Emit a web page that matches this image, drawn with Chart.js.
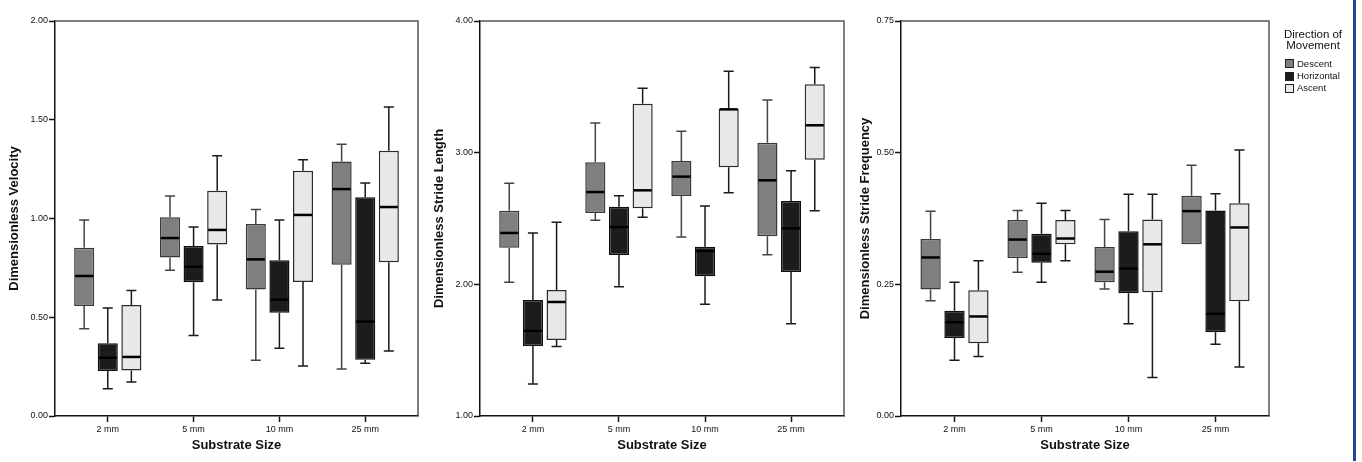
<!DOCTYPE html>
<html><head><meta charset="utf-8">
<script src="https://cdn.jsdelivr.net/npm/chart.js@4/dist/chart.umd.min.js"></script>
<style>
html,body{margin:0;padding:0;background:#fff;width:1362px;height:462px;overflow:hidden;position:relative;font-family:Arial,"Liberation Sans",sans-serif;}
.pane{position:absolute;top:0;}
#legend{position:absolute;left:1280px;top:0;width:66px;height:100px;color:#111;}
#legend .lt{position:absolute;left:-10px;top:28.5px;width:86px;text-align:center;font-size:11.5px;line-height:11.5px;}
#legend .it{position:absolute;left:5px;height:12px;font-size:9.5px;line-height:12px;white-space:nowrap;}
#legend .sw{position:absolute;left:0;top:1.5px;width:9px;height:9px;box-sizing:border-box;border:1px solid #222;}
#legend .tx{position:absolute;left:12px;top:0;}
#edge{position:absolute;left:1353px;top:0;width:3px;height:461px;background:#2a4494;}
</style>
</head><body>
<div class="pane" style="left:0px"><canvas id="c1" width="420" height="462"></canvas></div>
<div class="pane" style="left:425px"><canvas id="c2" width="421" height="462"></canvas></div>
<div class="pane" style="left:851px"><canvas id="c3" width="420" height="462"></canvas></div>
<div id="legend"></div>
<div id="edge"></div>
<script>
// ---- data ----
const categories = ['2 mm', '5 mm', '10 mm', '25 mm'];
const seriesNames = ['Descent', 'Horizontal', 'Ascent'];
// each entry: [lower whisker, Q1, median, Q3, upper whisker]
const velocityDescent    = [[0.442,0.557,0.709,0.852,0.992],[0.738,0.802,0.901,1.006,1.114],[0.282,0.641,0.793,0.972,1.046],[0.238,0.766,1.149,1.289,1.376]];
const velocityHorizontal = [[0.138,0.228,0.295,0.368,0.547],[0.407,0.677,0.756,0.861,0.957],[0.343,0.523,0.589,0.788,0.992],[0.267,0.285,0.478,1.107,1.180]];
const velocityAscent     = [[0.172,0.230,0.299,0.562,0.635],[0.587,0.868,0.942,1.141,1.318],[0.253,0.678,1.018,1.242,1.298],[0.329,0.778,1.058,1.343,1.565]];

const lengthDescent    = [[2.015,2.278,2.390,2.559,2.767],[2.486,2.542,2.701,2.927,3.225],[2.359,2.671,2.818,2.937,3.162],[2.225,2.365,2.790,3.076,3.400]];
const lengthHorizontal = [[1.243,1.532,1.646,1.881,2.390],[1.982,2.223,2.435,2.590,2.673],[1.848,2.061,2.253,2.286,2.595],[1.701,2.094,2.425,2.633,2.863]];
const lengthAscent     = [[1.527,1.577,1.866,1.957,2.471],[2.509,2.577,2.714,3.372,3.489],[2.696,2.889,3.329,3.334,3.618],[2.559,2.947,3.208,3.519,3.646]];

const freqDescent    = [[0.219,0.240,0.301,0.336,0.389],[0.273,0.300,0.335,0.372,0.390],[0.241,0.254,0.274,0.321,0.373],[0.326,0.326,0.389,0.418,0.476]];
const freqHorizontal = [[0.106,0.148,0.178,0.200,0.254],[0.254,0.291,0.308,0.346,0.404],[0.175,0.233,0.280,0.351,0.421],[0.136,0.159,0.194,0.390,0.422]];
const freqAscent     = [[0.113,0.138,0.189,0.239,0.295],[0.295,0.326,0.337,0.372,0.390],[0.073,0.235,0.326,0.373,0.421],[0.093,0.218,0.358,0.404,0.505]];

const velocityTicks = [0, 0.5, 1.0, 1.5, 2.0];
const lengthTicks = [1, 2, 3, 4];
const freqTicks = [0, 0.25, 0.5, 0.75];

// ---- styles ----
const fills = ['#7f7f7f', '#1c1c1c', '#e8e8e8'];
const borders = ['#383838', '#0e0e0e', '#2c2c2c'];
const whiskerColors = ['#444444', '#1a1a1a', '#1a1a1a'];
const offsets = [-0.275, 0, 0.275];
const FONT = 'Arial, "Liberation Sans", sans-serif';

const boxPlugin = {
  id: 'boxWhiskers',
  beforeDatasetsDraw(chart) {
    const ctx = chart.ctx, ys = chart.scales.y;
    ctx.save();
    chart.data.datasets.forEach((ds, di) => {
      const meta = chart.getDatasetMeta(di);
      meta.data.forEach((bar, i) => {
        const s = ds.stats[i];
        const x = bar.x, cap = bar.width / 4;
        ctx.strokeStyle = whiskerColors[di];
        ctx.lineWidth = 1.5;
        ctx.beginPath();
        if (s[4] > s[3]) {
          ctx.moveTo(x, ys.getPixelForValue(s[4])); ctx.lineTo(x, ys.getPixelForValue(s[3]));
          ctx.moveTo(x - cap, ys.getPixelForValue(s[4])); ctx.lineTo(x + cap, ys.getPixelForValue(s[4]));
        }
        if (s[0] < s[1]) {
          ctx.moveTo(x, ys.getPixelForValue(s[0])); ctx.lineTo(x, ys.getPixelForValue(s[1]));
          ctx.moveTo(x - cap, ys.getPixelForValue(s[0])); ctx.lineTo(x + cap, ys.getPixelForValue(s[0]));
        }
        ctx.stroke();
      });
    });
    ctx.restore();
  },
  afterDatasetsDraw(chart) {
    const ctx = chart.ctx, ys = chart.scales.y;
    ctx.save();
    chart.data.datasets.forEach((ds, di) => {
      const meta = chart.getDatasetMeta(di);
      meta.data.forEach((bar, i) => {
        const s = ds.stats[i];
        const y = ys.getPixelForValue(s[2]);
        ctx.strokeStyle = '#000';
        ctx.lineWidth = 2.5;
        ctx.beginPath();
        ctx.moveTo(bar.x - bar.width / 2 + 1, y);
        ctx.lineTo(bar.x + bar.width / 2 - 1, y);
        ctx.stroke();
      });
    });
    const a = chart.chartArea;
    ctx.strokeStyle = '#555';
    ctx.lineWidth = 1.5;
    ctx.beginPath();
    ctx.moveTo(a.left, a.top); ctx.lineTo(a.right, a.top); ctx.lineTo(a.right, a.bottom);
    ctx.stroke();
    ctx.restore();
  }
};

function makeChart(id, seriesStats, yTitle, yTicks, yWidth) {
  const datasets = seriesStats.map((stats, k) => ({
    label: seriesNames[k],
    data: stats.map((s, i) => ({ x: i + offsets[k], y: [s[1], s[3]] })),
    stats: stats,
    backgroundColor: fills[k],
    borderColor: borders[k],
    borderWidth: 1.5,
    borderSkipped: false,
    grouped: false,
    barPercentage: 0.85,
    categoryPercentage: 1
  }));
  return new Chart(document.getElementById(id), {
    type: 'bar',
    data: { datasets },
    plugins: [boxPlugin],
    options: {
      responsive: false,
      animation: false,
      devicePixelRatio: 1,
      layout: { padding: { top: 21, right: 2, bottom: 0, left: 0 } },
      plugins: { legend: { display: false }, tooltip: { enabled: false } },
      scales: {
        x: {
          type: 'linear', min: -0.615, max: 3.615, offset: false,
          afterBuildTicks: s => { s.ticks = categories.map((c, i) => ({ value: i })); },
          afterFit: s => { s.height = 46; },
          ticks: { callback: v => categories[v], font: { size: 9, family: FONT }, color: '#111', padding: 2, autoSkip: false, maxRotation: 0 },
          grid: { offset: false, drawOnChartArea: false, tickLength: 6, tickColor: '#111', tickWidth: 1.5 },
          border: { color: '#111', width: 1.5 },
          title: { display: true, text: 'Substrate Size', font: { size: 13, weight: 'bold', family: FONT }, color: '#111', padding: { top: 0, bottom: 9 } }
        },
        y: {
          min: yTicks[0], max: yTicks[yTicks.length - 1],
          afterBuildTicks: s => { s.ticks = yTicks.map(v => ({ value: v })); },
          afterFit: s => { s.width = yWidth; },
          ticks: { callback: v => Number(v).toFixed(2), font: { size: 9, family: FONT }, color: '#111', padding: 1 },
          grid: { drawOnChartArea: false, tickLength: 6, tickColor: '#111', tickWidth: 1.5 },
          border: { color: '#111', width: 1.5 },
          title: { display: true, text: yTitle, font: { size: 13, weight: 'bold', family: FONT }, color: '#111', padding: { top: 7, bottom: 0 } }
        }
      }
    }
  });
}

makeChart('c1', [velocityDescent, velocityHorizontal, velocityAscent], 'Dimensionless Velocity', velocityTicks, 55);
makeChart('c2', [lengthDescent, lengthHorizontal, lengthAscent], 'Dimensionless Stride Length', lengthTicks, 55);
makeChart('c3', [freqDescent, freqHorizontal, freqAscent], 'Dimensionless Stride Frequency', freqTicks, 50);

// legend
const lg = document.getElementById('legend');
const t = document.createElement('div');
t.className = 'lt';
t.innerHTML = 'Direction of<br>Movement';
lg.appendChild(t);
seriesNames.forEach((n, k) => {
  const it = document.createElement('div');
  it.className = 'it';
  it.style.top = (57.7 + k * 12.3) + 'px';
  it.innerHTML = '<span class="sw" style="background:' + fills[k] + '"></span><span class="tx">' + n + '</span>';
  lg.appendChild(it);
});
</script>
</body></html>
